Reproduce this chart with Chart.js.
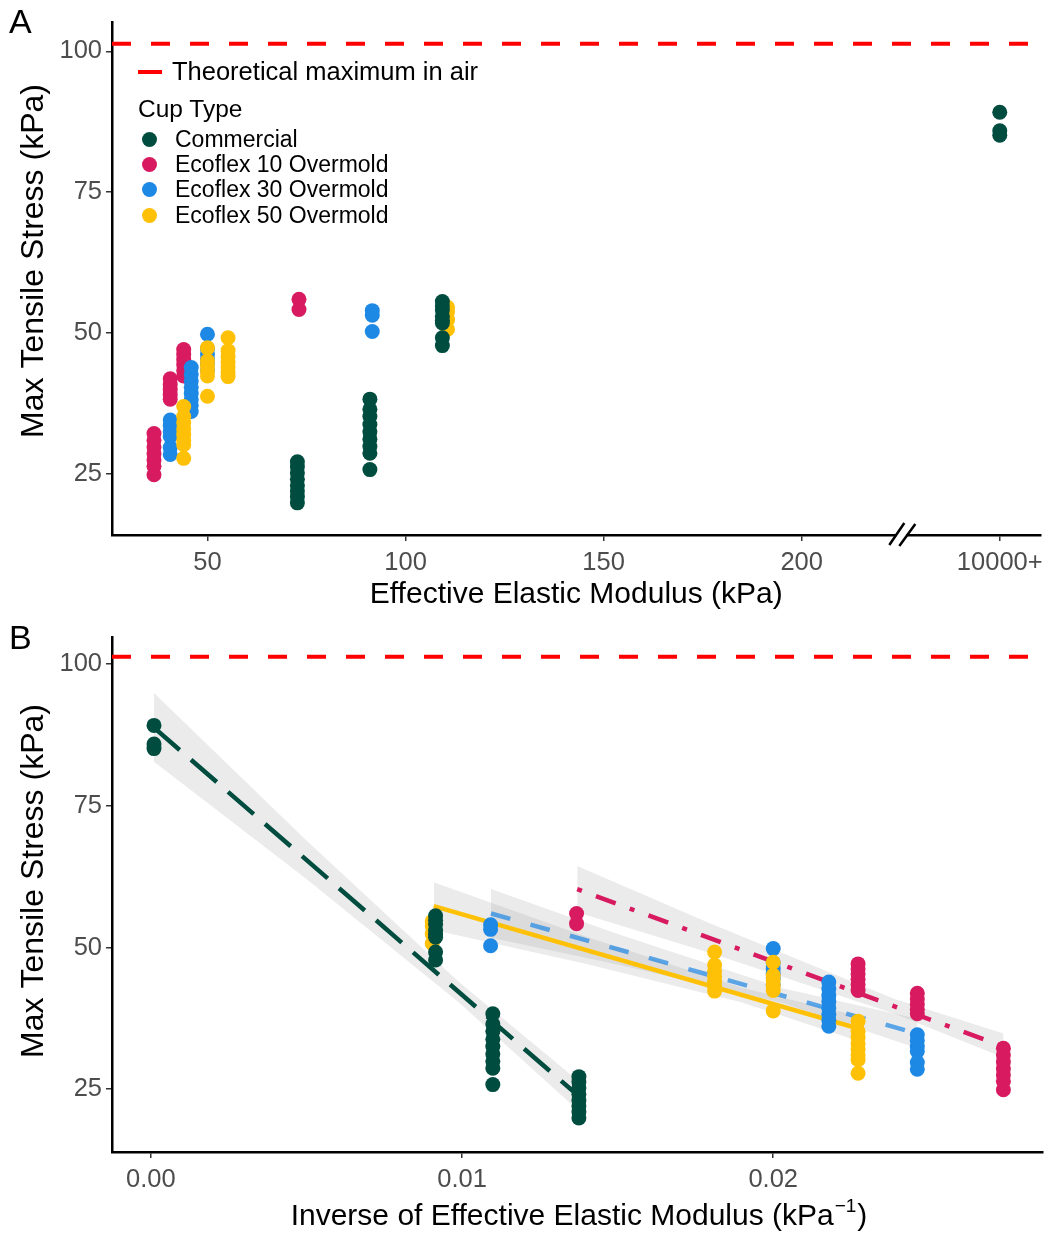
<!DOCTYPE html>
<html>
<head>
<meta charset="utf-8">
<script src="https://cdn.jsdelivr.net/npm/chart.js@4.4.1/dist/chart.umd.min.js"></script>
<style>
  body { margin: 0; background: #fff; font-family: "Liberation Sans", Arial, Helvetica, sans-serif; }
  #wrap { position: relative; width: 1050px; height: 1234px; }
  .panel { position: absolute; left: 0; width: 1050px; height: 617px; }
  #panelA { top: 0; }
  #panelB { top: 617px; }
  .tag { position: absolute; left: 9px; font-size: 34px; line-height: 34px; color: #000; }
  .leg { position: absolute; white-space: nowrap; color: #000; line-height: 1; }
  .dot { position: absolute; width: 15px; height: 15px; border-radius: 50%; }
</style>
</head>
<body>
<div id="wrap">
  <div class="panel" id="panelA"><canvas id="chartA" width="1050" height="617"></canvas></div>
  <div class="panel" id="panelB"><canvas id="chartB" width="1050" height="617"></canvas></div>
  <div class="tag" style="top:4px">A</div>
  <div class="tag" style="top:620px">B</div>
  <div id="legend"></div>
</div>
<script>
const family = '"Liberation Sans", Arial, Helvetica, sans-serif'

// ---- data ----
const cupTypes = ['Commercial', 'Ecoflex 10 Overmold', 'Ecoflex 30 Overmold', 'Ecoflex 50 Overmold']
const cupColors = ['#004D40', '#D81B60', '#1E88E5', '#FFC107']

const commercialModulus = [10000, 109.3, 91.0, 72.7]
const commercialStress = [
    [89.2, 85.9, 85.1],
    [55.6, 54.8, 54.1, 53.0, 52.3, 51.8, 49.2, 47.8],
    [38.3, 36.5, 35.2, 33.8, 32.5, 31.2, 29.9, 28.7, 25.8],
    [27.2, 26.3, 25.2, 24.1, 23.0, 22.0, 21.0, 19.9]
]
const eco10Modulus = [73.1, 44.0, 40.6, 36.5]
const eco10Stress = [
    [56.0, 54.2],
    [47.1, 46.2, 45.3, 44.4, 43.4, 42.4],
    [41.9, 40.9, 40.0, 39.1, 38.3],
    [32.2, 31.0, 29.8, 28.6, 27.5, 26.4, 24.9]
]
const eco30Modulus = [91.6, 50.0, 45.9, 40.6]
const eco30Stress = [
    [54.0, 53.2, 50.3],
    [49.8, 47.3, 46.3, 45.4, 44.6, 43.4],
    [43.9, 42.7, 41.5, 40.4, 39.3, 38.2, 37.2, 36.1],
    [34.6, 33.6, 32.5, 31.7, 29.7, 28.5]
]
const eco50Modulus = [110.6, 55.2, 50.0, 44.0]
const eco50Stress = [
    [54.6, 53.8, 52.4, 50.7],
    [49.2, 46.9, 45.8, 44.9, 44.0, 43.1, 42.3],
    [47.4, 45.1, 44.2, 43.3, 42.4, 38.8],
    [37.0, 35.2, 34.1, 33.0, 32.0, 31.0, 30.2, 27.8]
]

// fitted lines and their grey bands (x = 1/E)
const commercialFitX = [0.0001, 0.0137]
const commercialFitY = [88.8, 24.0]
const commercialBandX = [0.0001, 0.005, 0.0099, 0.0137]
const commercialBandLo = [82.8, 62.1, 40.3, 21.4]
const commercialBandHi = [94.9, 68.9, 43.9, 26.6]

const eco10FitX = [0.0137, 0.0274]
const eco10FitY = [60.3, 32.5]
const eco10BandX = [0.0137, 0.018, 0.0239, 0.0274]
const eco10BandLo = [56.2, 49.0, 38.3, 30.6]
const eco10BandHi = [64.4, 54.2, 40.9, 34.8]

const eco30FitX = [0.01093, 0.02463]
const eco30FitY = [56.0, 34.8]
const eco30BandX = [0.01093, 0.015, 0.0203, 0.02463]
const eco30BandLo = [51.7, 47.0, 40.2, 32.2]
const eco30BandHi = [60.3, 52.4, 42.8, 37.4]

const eco50FitX = [0.00909, 0.02273]
const eco50FitY = [57.3, 35.7]
const eco50BandX = [0.00909, 0.014, 0.019, 0.02273]
const eco50BandLo = [53.1, 47.1, 40.3, 33.5]
const eco50BandHi = [61.5, 51.9, 42.9, 37.9]

const airMax = 101.325

const xTicksA = [50, 100, 150, 200, 250]
const xTickLabelsA = ['50', '100', '150', '200', '10000+']
const xLimitsA = [25.9, 260.3]
const axisBreakA = 225.4
const yTicks = [25, 50, 75, 100]
const yTickLabels = ['25', '50', '75', '100']
const xTicksB = [0, 0.01, 0.02]
const xTickLabelsB = ['0.00', '0.01', '0.02']
const xLimitsB = [-0.00125, 0.028654]
const yLimitsA = [14.2, 105.2]
const yLimitsB = [13.9, 104.8]

const allModulus = [commercialModulus, eco10Modulus, eco30Modulus, eco50Modulus]
const allStress = [commercialStress, eco10Stress, eco30Stress, eco50Stress]
const fitXs = [commercialFitX, eco10FitX, eco30FitX, eco50FitX]
const fitYs = [commercialFitY, eco10FitY, eco30FitY, eco50FitY]
const bandXs = [commercialBandX, eco10BandX, eco30BandX, eco50BandX]
const bandLos = [commercialBandLo, eco10BandLo, eco30BandLo, eco50BandLo]
const bandHis = [commercialBandHi, eco10BandHi, eco30BandHi, eco50BandHi]

// draw order: commercial on top, then 50, 30, 10
const pointOrder = [0, 3, 2, 1]
const fitColors = ['#004D40', '#D81B60', 'rgba(30,136,229,0.7)', '#FFC107']
const fitDashes = [[34, 15], [5, 15, 21, 15], [20, 21], []]

// 10000+ sits on the squeezed axis at the last tick
function posA(E){
    return E >= 10000 ? xTicksA[xTicksA.length - 1] : E
}

function pointSets(xOf){
    const sets = []
    for (let g = 0; g < cupTypes.length; g++){
        const pts = []
        allModulus[g].forEach((E, i) => {
            allStress[g][i].forEach(s => pts.push({x: xOf(E), y: s}))
        })
        sets.push({
            type: 'scatter',
            label: cupTypes[g],
            data: pts,
            backgroundColor: cupColors[g],
            borderWidth: 0,
            pointRadius: 7.5,
            pointHoverRadius: 7.5,
            order: pointOrder[g]
        })
    }
    return sets
}

function airLine(limits){
    return {
        type: 'line',
        label: 'Theoretical maximum in air',
        data: [{x: limits[0], y: airMax}, {x: limits[1], y: airMax}],
        borderColor: '#FF0000',
        borderWidth: 4,
        borderDash: [19, 20],
        pointRadius: 0,
        fill: false,
        order: -1
    }
}

function fitSets(){
    const sets = []
    for (let g = 0; g < cupTypes.length; g++){
        sets.push({
            type: 'line',
            label: cupTypes[g] + ' band',
            data: bandXs[g].map((x, i) => ({x: x, y: bandHis[g][i]})),
            borderColor: 'rgba(0,0,0,0)',
            borderWidth: 0,
            backgroundColor: 'rgba(153,153,153,0.2)',
            fill: '+1',
            pointRadius: 0,
            order: 30 + g
        })
        sets.push({
            type: 'line',
            label: cupTypes[g] + ' band low',
            data: bandXs[g].map((x, i) => ({x: x, y: bandLos[g][i]})),
            borderColor: 'rgba(0,0,0,0)',
            borderWidth: 0,
            fill: false,
            pointRadius: 0,
            order: 30 + g
        })
        sets.push({
            type: 'line',
            label: cupTypes[g] + ' fit',
            data: fitXs[g].map((x, i) => ({x: x, y: fitYs[g][i]})),
            borderColor: fitColors[g],
            borderWidth: 4.5,
            borderDash: fitDashes[g],
            pointRadius: 0,
            fill: false,
            order: 10 + g
        })
    }
    return sets
}

function axisOptions(ticks, labels, limits, isX){
    return {
        type: 'linear',
        min: limits[0],
        max: limits[1],
        afterBuildTicks: s => { s.ticks = ticks.map(v => ({value: v})) },
        afterFit: s => { if (isX) s.height = 82; else s.width = 112 },
        grid: { drawOnChartArea: false, drawTicks: true, tickLength: 6, color: '#333333', lineWidth: 1.5 },
        border: { display: true, color: '#000000', width: 2.5 },
        ticks: {
            color: '#4D4D4D',
            font: { size: 25.5, family: family },
            padding: isX ? 7 : 4,
            maxRotation: 0,
            autoSkip: false,
            callback: (v, i) => labels[i]
        }
    }
}

const titlePlugin = {
    id: 'customTitles',
    afterDraw(chart, args, opts){
        const ctx = chart.ctx
        ctx.save()
        ctx.fillStyle = '#000'
        ctx.textAlign = 'center'
        ctx.textBaseline = 'middle'
        // y title
        ctx.save()
        ctx.font = '32px ' + family
        ctx.translate(opts.yX, opts.yY)
        ctx.rotate(-Math.PI / 2)
        ctx.fillText(opts.yText, 0, 0)
        ctx.restore()
        // x title, optional superscript
        if (opts.xText){
            const main = opts.xText
            const sup = opts.xSup || ''
            const tail = opts.xTail || ''
            ctx.font = '30px ' + family
            const w1 = ctx.measureText(main).width
            const w3 = ctx.measureText(tail).width
            ctx.font = '19px ' + family
            const w2 = ctx.measureText(sup).width
            let x = opts.xX - (w1 + w2 + w3) / 2
            ctx.textAlign = 'left'
            ctx.font = '30px ' + family
            ctx.fillText(main, x, opts.xY)
            x += w1
            ctx.font = '19px ' + family
            ctx.fillText(sup, x + 1, opts.xY - 10)
            x += w2 + 2
            ctx.font = '30px ' + family
            ctx.fillText(tail, x, opts.xY)
        }
        ctx.restore()
    }
}

const breakPlugin = {
    id: 'axisBreak',
    afterDraw(chart, args, opts){
        if (!opts.value) return
        const ctx = chart.ctx
        const c = chart.scales.x.getPixelForValue(opts.value)
        const y = chart.chartArea.bottom
        ctx.save()
        ctx.fillStyle = '#fff'
        ctx.fillRect(c - 6, y - 2.5, 10, 5)
        ctx.strokeStyle = '#000'
        ctx.lineWidth = 2.5
        ctx.beginPath()
        ctx.moveTo(c - 13, y + 10)
        ctx.lineTo(c + 2, y - 12)
        ctx.moveTo(c - 3, y + 11)
        ctx.lineTo(c + 13, y - 11)
        ctx.stroke()
        ctx.restore()
    }
}

// ---- panel A ----
const xA = axisOptions(xTicksA, xTickLabelsA, xLimitsA, true)
xA.title = { display: true, text: 'Effective Elastic Modulus (kPa)', color: '#000', font: { size: 30, family: family }, padding: { top: 0, bottom: 4 } }

new Chart(document.getElementById('chartA'), {
    type: 'scatter',
    data: { datasets: [airLine(xLimitsA)].concat(pointSets(posA)) },
    options: {
        responsive: false,
        animation: false,
        layout: { padding: { top: 22, right: 5, left: 0, bottom: 0 } },
        plugins: {
            legend: { display: false },
            tooltip: { enabled: false },
            customTitles: { yText: 'Max Tensile Stress (kPa)', yX: 34, yY: 261 },
            axisBreak: { value: axisBreakA }
        },
        scales: {
            x: xA,
            y: axisOptions(yTicks, yTickLabels, yLimitsA, false)
        }
    },
    plugins: [titlePlugin, breakPlugin]
})

// ---- panel B ----
new Chart(document.getElementById('chartB'), {
    type: 'scatter',
    data: { datasets: [airLine(xLimitsB)].concat(fitSets(), pointSets(E => 1 / E)) },
    options: {
        responsive: false,
        animation: false,
        layout: { padding: { top: 20, right: 5, left: 0, bottom: 0 } },
        plugins: {
            legend: { display: false },
            tooltip: { enabled: false },
            customTitles: {
                yText: 'Max Tensile Stress (kPa)', yX: 34, yY: 264,
                xText: 'Inverse of Effective Elastic Modulus (kPa', xSup: '\u22121', xTail: ')',
                xX: 578, xY: 600
            },
            axisBreak: { value: 0 }
        },
        scales: {
            x: axisOptions(xTicksB, xTickLabelsB, xLimitsB, true),
            y: axisOptions(yTicks, yTickLabels, yLimitsB, false)
        }
    },
    plugins: [titlePlugin, breakPlugin]
})

// ---- legend of panel A (ggplot style, inside the plot) ----
const legend = document.getElementById('legend')
function addLeg(html){ legend.insertAdjacentHTML('beforeend', html) }
addLeg('<div style="position:absolute;left:138px;top:70px;width:24px;height:4px;background:#FF0000"></div>')
addLeg('<div class="leg" style="left:172px;top:59px;font-size:25.5px">Theoretical maximum in air</div>')
addLeg('<div class="leg" style="left:138px;top:97px;font-size:24.5px">Cup Type</div>')
const legY = [139, 164, 189, 215]
cupTypes.forEach((name, i) => {
    addLeg('<div class="dot" style="left:142px;top:' + (legY[i] - 7.5) + 'px;background:' + cupColors[i] + '"></div>')
    addLeg('<div class="leg" style="left:175px;top:' + (legY[i] - 11) + 'px;font-size:23px">' + name + '</div>')
})
</script>
</body>
</html>
